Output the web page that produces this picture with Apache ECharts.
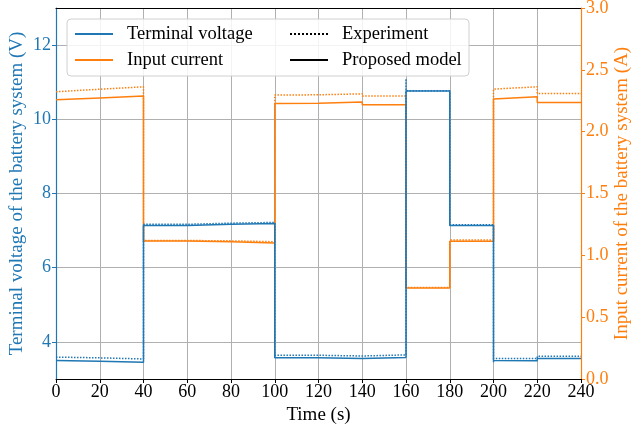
<!DOCTYPE html>
<html>
<head>
<meta charset="utf-8">
<script src="https://cdn.jsdelivr.net/npm/echarts@6/dist/echarts.min.js"></script>
<style>
  html, body { margin: 0; padding: 0; background: #fff; }
  #main { width: 634px; height: 429px; }
</style>
</head>
<body>
<div id="main"></div>
<script>
// 20 s blocks, value at the start and at the end of each block
var blockStart = [0, 20, 40, 60, 80, 100, 120, 140, 160, 180, 200, 220];
var blockLen = 20;

var voltModelStart = [3.50, 3.48, 7.14, 7.17, 7.19, 3.57, 3.55, 3.58, 10.76, 7.14, 3.50, 3.55];
var voltModelEnd   = [3.48, 3.45, 7.14, 7.17, 7.19, 3.57, 3.55, 3.58, 10.76, 7.14, 3.49, 3.55];
var voltExpStart   = [3.59, 3.57, 7.17, 7.20, 7.22, 3.64, 3.62, 3.65, 10.77, 7.16, 3.55, 3.61];
var voltExpEnd     = [3.57, 3.54, 7.17, 7.20, 7.22, 3.64, 3.62, 3.65, 10.77, 7.16, 3.55, 3.61];
// short spikes of the measured voltage at switching instants [time, value]
var voltExpSpikes  = [[160, 11.09], [200, 3.43]];

var currModelStart = [2.258, 2.273, 1.115, 1.11, 1.10, 2.228, 2.239, 2.218, 0.736, 1.113, 2.264, 2.236];
var currModelEnd   = [2.273, 2.288, 1.115, 1.11, 1.10, 2.230, 2.240, 2.218, 0.736, 1.113, 2.282, 2.236];
var currExpStart   = [2.323, 2.343, 1.120, 1.117, 1.11, 2.296, 2.306, 2.288, 0.740, 1.123, 2.344, 2.309];
var currExpEnd     = [2.343, 2.363, 1.120, 1.117, 1.11, 2.298, 2.306, 2.288, 0.740, 1.123, 2.363, 2.309];

var leftTicks = [4, 6, 8, 10, 12];

var BLUE = '#1f77b4', ORANGE = '#ff7f0e';
var FONT = 'Liberation Serif';

// build step polyline from block values
function steps(starts, ends, spikes) {
  var pts = [];
  for (var i = 0; i < blockStart.length; i++) {
    var t0 = blockStart[i];
    (spikes || []).forEach(function (s) {
      if (s[0] === t0) pts.push([s[0], s[1]]);
    });
    pts.push([t0, starts[i]]);
    pts.push([t0 + blockLen, ends[i]]);
  }
  return pts;
}

var myChart = echarts.init(document.getElementById('main'));

var lineBase = {
  type: 'line', symbol: 'none', showSymbol: false, animation: false
};

var legendBase = {
  orient: 'vertical', top: 19,
  itemWidth: 38, itemHeight: 10, itemGap: 6,
  itemStyle: { opacity: 0 },
  textStyle: { fontFamily: FONT, fontSize: 18.5, color: '#000', lineHeight: 20, padding: [0, 0, 0, 9] },
  z: 5
};

var option = {
  animation: false,
  grid: {
    left: 56, right: 53, top: 8, bottom: 50,
    outerBoundsMode: 'none', containLabel: false
  },
  graphic: [{
    type: 'rect', z: 3,
    shape: { x: 67, y: 19, width: 402, height: 57, r: 4 },
    style: { fill: 'rgba(255,255,255,0.85)', stroke: '#d0d0d0', lineWidth: 1 }
  }],
  legend: [
    Object.assign({}, legendBase, { data: ['Terminal voltage', 'Input current'], left: 69 }),
    Object.assign({}, legendBase, { data: ['Experiment', 'Proposed model'], left: 284 })
  ],
  xAxis: [{
    type: 'value', min: 0, max: 240, interval: 20, position: 'bottom',
    name: 'Time (s)', nameLocation: 'middle', nameGap: 26,
    nameTextStyle: { fontFamily: FONT, fontSize: 19, color: '#000' },
    axisLine: { onZero: false, lineStyle: { color: '#000', width: 1 } },
    axisTick: { show: true, length: 4, lineStyle: { color: '#000' } },
    axisLabel: { fontFamily: FONT, fontSize: 18, color: '#000', margin: 4 },
    splitLine: { show: true, lineStyle: { color: '#b0b0b0', width: 1 } }
  }, {
    type: 'value', min: 0, max: 240, position: 'top',
    axisLine: { show: true, onZero: false, lineStyle: { color: '#000', width: 1 } },
    axisTick: { show: false }, axisLabel: { show: false }, splitLine: { show: false }
  }],
  yAxis: [{
    type: 'value', min: 3, max: 13, position: 'left',
    name: 'Terminal voltage of the battery system (V)',
    nameLocation: 'middle', nameGap: 29, nameMoveOverlap: false,
    nameTextStyle: { fontFamily: FONT, fontSize: 19, color: BLUE },
    axisLine: { show: true, onZero: false, lineStyle: { color: BLUE, width: 1.2 } },
    axisTick: { show: true, length: 4, customValues: leftTicks, lineStyle: { color: BLUE } },
    axisLabel: { fontFamily: FONT, fontSize: 18, color: BLUE, margin: 5, customValues: leftTicks },
    splitLine: { show: true, lineStyle: { color: '#b0b0b0', width: 1 } }
  }, {
    type: 'value', min: 0, max: 3, interval: 0.5, position: 'right',
    name: 'Input current of the battery system (A)',
    nameLocation: 'middle', nameGap: 32, nameRotate: 90, nameMoveOverlap: false,
    nameTextStyle: { fontFamily: FONT, fontSize: 19, color: ORANGE },
    axisLine: { show: true, onZero: false, lineStyle: { color: ORANGE, width: 1.2 } },
    axisTick: { show: true, length: 4, lineStyle: { color: ORANGE } },
    axisLabel: {
      fontFamily: FONT, fontSize: 18, color: ORANGE, margin: 5,
      formatter: function (v) { return v.toFixed(1); }
    },
    splitLine: { show: false }
  }],
  series: [
    Object.assign({}, lineBase, {
      name: 'Input current exp', yAxisIndex: 1,
      data: steps(currExpStart, currExpEnd),
      lineStyle: { color: ORANGE, width: 1.5, type: 'dotted' }, itemStyle: { color: ORANGE }
    }),
    Object.assign({}, lineBase, {
      name: 'Input current', yAxisIndex: 1,
      data: steps(currModelStart, currModelEnd),
      lineStyle: { color: ORANGE, width: 1.5 }, itemStyle: { color: ORANGE }
    }),
    Object.assign({}, lineBase, {
      name: 'Terminal voltage exp', yAxisIndex: 0,
      data: steps(voltExpStart, voltExpEnd, voltExpSpikes),
      lineStyle: { color: BLUE, width: 1.5, type: 'dotted' }, itemStyle: { color: BLUE }
    }),
    Object.assign({}, lineBase, {
      name: 'Terminal voltage', yAxisIndex: 0,
      data: steps(voltModelStart, voltModelEnd),
      lineStyle: { color: BLUE, width: 1.5 }, itemStyle: { color: BLUE }
    }),
    Object.assign({}, lineBase, {
      name: 'Experiment', yAxisIndex: 0, data: [],
      lineStyle: { color: '#000', width: 1.2, type: 'dotted' }, itemStyle: { color: '#000' }
    }),
    Object.assign({}, lineBase, {
      name: 'Proposed model', yAxisIndex: 0, data: [],
      lineStyle: { color: '#000', width: 1.5 }, itemStyle: { color: '#000' }
    })
  ]
};
myChart.setOption(option, true);
</script>
</body>
</html>
